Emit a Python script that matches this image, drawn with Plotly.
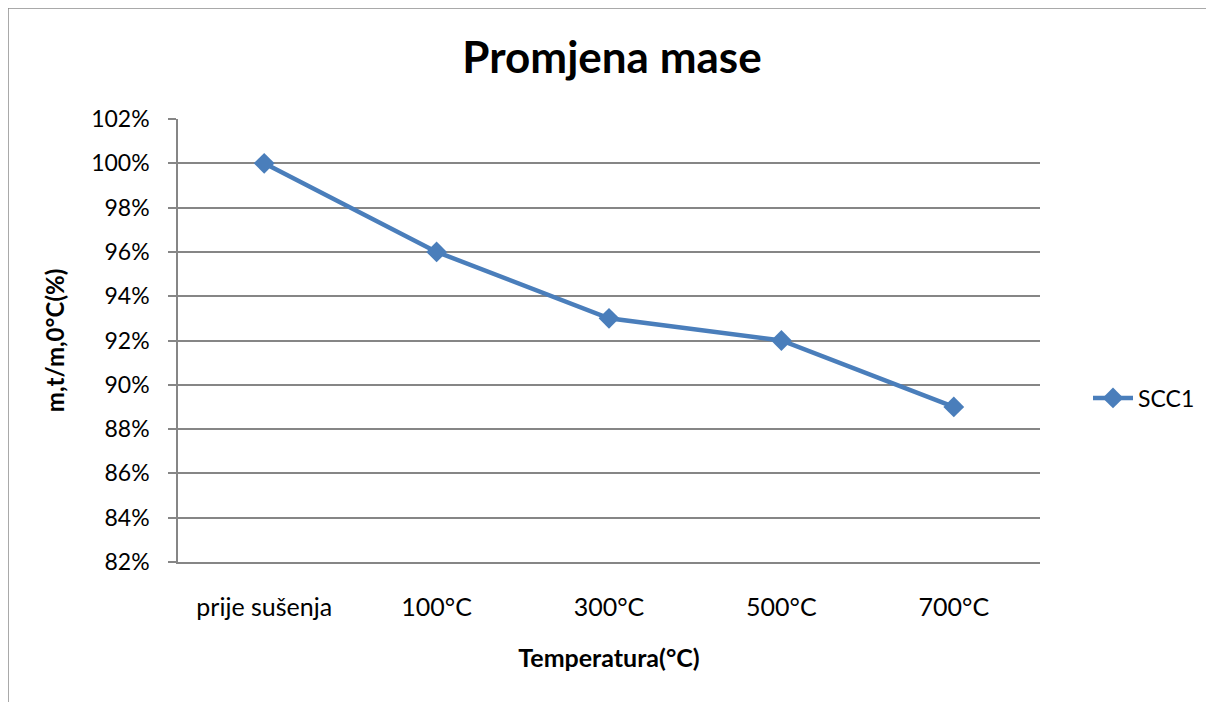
import plotly.graph_objects as go

categories = ["prije sušenja", "100°C", "300°C", "500°C", "700°C"]
scc1 = [1.00, 0.96, 0.93, 0.92, 0.89]
series_name = "SCC1"
title_text = "Promjena mase"
x_title = "Temperatura(°C)"
y_title = "m,t/m,0°C(%)"

FONT = "Lato"
BLUE = "#4a7ebb"
GRID = "#868686"

# plot area in figure coordinates (page adds 8px body margin)
L, R, T, B = 170, 1032, 111, 554
W, H = R - L, B - T

fig = go.Figure()
fig.add_trace(go.Scatter(
    x=categories, y=scc1, name=series_name, mode="lines+markers",
    line=dict(color=BLUE, width=4.5),
    marker=dict(symbol="diamond", size=16, color=BLUE),
))

fig.update_layout(
    width=1214, height=702,
    margin=dict(l=L, r=1214 - R, t=T, b=702 - B),
    paper_bgcolor="white", plot_bgcolor="white",
    font=dict(family=FONT, size=23, color="black"),
    title=dict(text="<b>" + title_text + "</b>", x=604 / 1214, xanchor="center",
               y=1 - 50 / 702, yanchor="middle", font=dict(size=44, family=FONT)),
    showlegend=True,
    legend=dict(x=(1080 - L) / W, y=(B - 390) / H, xanchor="left", yanchor="middle",
                bgcolor="rgba(0,0,0,0)", font=dict(size=23), itemwidth=40),
    xaxis=dict(
        type="category", range=[-0.5, 4.5],
        showline=True, linecolor=GRID, linewidth=1.5,
        showgrid=False, ticks="", ticklabelstandoff=22,
        tickfont=dict(size=25),
        title=dict(text="<b>" + x_title + "</b>", font=dict(size=25), standoff=30),
        zeroline=False,
    ),
    yaxis=dict(
        range=[0.82, 1.02], dtick=0.02, tickformat=".0%",
        showline=True, linecolor=GRID, linewidth=1.5,
        showgrid=True, gridcolor=GRID, gridwidth=1.5,
        ticks="outside", ticklen=8, tickcolor=GRID, tickwidth=1.5,
        ticklabelstandoff=14, tickfont=dict(size=23),
        title=dict(text="<b>" + y_title + "</b>", font=dict(size=24), standoff=20),
        zeroline=False,
    ),
    shapes=[
        dict(type="line", xref="paper", yref="paper",
             x0=(0 - L) / W, x1=(0 - L) / W,
             y0=(B - 0) / H, y1=(B - 702) / H,
             line=dict(color="#8c8c8c", width=1.5)),
        dict(type="line", xref="paper", yref="paper",
             x0=(0 - L) / W, x1=(1214 - L) / W,
             y0=(B - 0) / H, y1=(B - 0) / H,
             line=dict(color="#8c8c8c", width=1.5)),
    ],
)

fig.write_html("out.html")
